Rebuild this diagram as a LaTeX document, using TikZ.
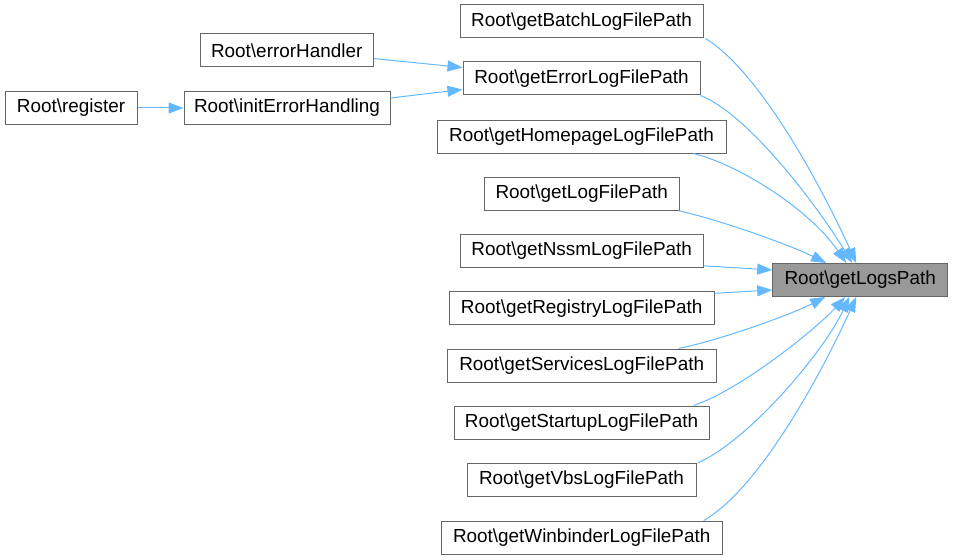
\documentclass[tikz,border=0pt]{standalone}
\usepackage{fontspec}
\setmainfont{Liberation Sans}
\usetikzlibrary{arrows.meta}
\definecolor{edgeblue}{HTML}{63B8FF}
\definecolor{boxborder}{HTML}{666666}
\definecolor{hilite}{HTML}{999999}
\begin{document}
\begin{tikzpicture}[x=1pt,y=-1pt,
  fn/.style={draw=boxborder, line width=1pt, fill=white, rectangle, inner sep=0pt,
    minimum height=33pt, font=\fontsize{18.9pt}{22pt}\selectfont},
  cur/.style={fn, fill=hilite},
  call/.style={draw=edgeblue, line width=1pt, -{Triangle[length=15pt,width=11pt]}, fill=none}
]
\useasboundingbox (0,0) rectangle (957,559);
% nodes
\node[fn, minimum width=243pt] (batch) at (581.5,21.5) {Root\textbackslash getBatchLogFilePath};
\node[fn, minimum width=237pt] (error) at (581.5,78.5) {Root\textbackslash getErrorLogFilePath};
\node[fn, minimum width=289pt] (home) at (581.5,136.5) {Root\textbackslash getHomepageLogFilePath};
\node[fn, minimum width=195pt] (logfile) at (581.7,193.7) {Root\textbackslash getLogFilePath};
\node[fn, minimum width=243pt] (nssm) at (581.7,250.8) {Root\textbackslash getNssmLogFilePath};
\node[fn, minimum width=265pt] (registry) at (581.7,308.3) {Root\textbackslash getRegistryLogFilePath};
\node[fn, minimum width=269pt] (services) at (581.7,365.5) {Root\textbackslash getServicesLogFilePath};
\node[fn, minimum width=255pt] (startup) at (581.5,422.5) {Root\textbackslash getStartupLogFilePath};
\node[fn, minimum width=229pt] (vbs) at (581.5,480) {Root\textbackslash getVbsLogFilePath};
\node[fn, minimum width=281pt] (winb) at (581.7,537.5) {Root\textbackslash getWinbinderLogFilePath};
\node[cur, minimum width=175pt] (logs) at (860.2,280) {Root\textbackslash getLogsPath};
\node[fn, minimum width=173pt] (errh) at (286.7,50.5) {Root\textbackslash errorHandler};
\node[fn, minimum width=132pt] (reg) at (71,108) {Root\textbackslash register};
\node[fn, minimum width=206pt] (init) at (287,108) {Root\textbackslash initErrorHandling};
% edges
\draw[call] (reg.east) -- (init.west);
\draw[call] ([yshift=-25pt]errh.north east) -- ([yshift=11pt]error.west);
\draw[call] ([yshift=10pt]init.east) -- ([yshift=-11pt]error.west);

\draw[call] ([xshift=2pt]batch.south east) .. controls (765,75) and (830,205) .. ([xshift=84pt]logs.north west);
\draw[call] (error.south east) .. controls (750,115) and (820,210) .. ([xshift=80pt]logs.north west);
\draw[call] ([xshift=-33pt]home.south east) .. controls (740,165) and (810,210) .. ([xshift=74pt]logs.north west);
\draw[call] ([xshift=-1pt]logfile.south east) .. controls (720,220) and (790,245) .. ([xshift=54pt]logs.north west);
\draw[call] ([yshift=2pt]nssm.south east) -- ([yshift=-7pt]logs.north west);
\draw[call] ([yshift=-2pt]registry.north east) -- ([yshift=7pt]logs.south west);
\draw[call] ([xshift=-38pt]services.north east) .. controls (720,340) and (790,315) .. ([xshift=53pt]logs.south west);
\draw[call] ([xshift=-16pt]startup.north east) .. controls (740,390) and (815,330) .. ([xshift=73pt]logs.south west);
\draw[call] ([xshift=1pt]vbs.north east) .. controls (750,440) and (825,350) .. ([xshift=77pt]logs.south west);
\draw[call] ([xshift=-19pt]winb.north east) .. controls (765,485) and (830,355) .. ([xshift=84pt]logs.south west);
\end{tikzpicture}
\end{document}
